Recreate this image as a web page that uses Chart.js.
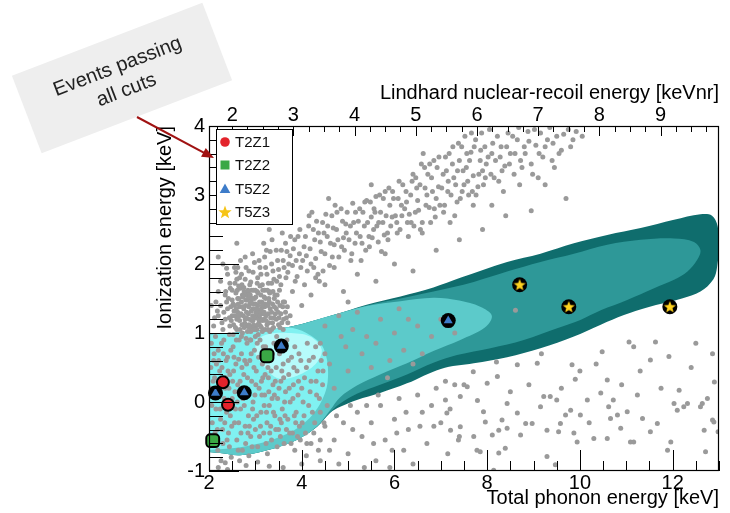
<!DOCTYPE html>
<html><head><meta charset="utf-8">
<script src="https://cdn.jsdelivr.net/npm/chart.js@4.4.0/dist/chart.umd.min.js"></script>
<style>html,body{margin:0;padding:0;background:#fff;}canvas{display:block;}</style>
</head><body>
<canvas id="c" width="730" height="513"></canvas>
<script>
// ---------------- DATA ----------------
const phononTicks = [2, 4, 6, 8, 10, 12];
const ionTicks = [-1, 0, 1, 2, 3, 4];
const lindhardTicks = [2, 3, 4, 5, 6, 7, 8, 9];
const lindhardRange = [1.621, 9.955];   // keVnr at the left (2 keV) and right (13 keV) edges

const seriesNames = ['T2Z1', 'T2Z2', 'T5Z2', 'T5Z3'];
const t2z1X = [2.30, 2.41],             t2z1Y = [0.285, -0.04];
const t2z2X = [3.25, 2.08],             t2z2Y = [0.67, -0.56];
const t5z2X = [2.14, 2.76, 3.56, 7.16], t5z2Y = [0.13, 0.135, 0.81, 1.18];
const t5z3X = [8.70, 9.76, 11.94],      t5z3Y = [1.70, 1.38, 1.38];

// signal-model contour bands (x, y)
const contourDark = [[1.9,0.97],[3.0,1.03],[3.75,1.09],[4.68,1.26],[5.4,1.41],[6.13,1.53],[6.84,1.66],[7.42,1.8],[8.43,2.03],[9.15,2.15],[9.87,2.30],[10.59,2.42],[11.31,2.52],[12.03,2.64],[12.6,2.72],[12.85,2.70],[12.97,2.55],[13.0,2.3],[12.96,1.96],[12.88,1.78],[12.6,1.60],[12.2,1.50],[11.45,1.37],[10.95,1.26],[10.45,1.12],[9.87,0.95],[9.15,0.78],[8.43,0.65],[7.71,0.56],[7.0,0.48],[6.27,0.27],[5.69,0.13],[5.19,0.03],[4.83,-0.07],[4.61,-0.16],[4.33,-0.36],[3.89,-0.55],[3.25,-0.70],[2.67,-0.77],[2.24,-0.74],[1.9,-0.72]];
const contourMid = [[1.9,0.97],[3.0,1.03],[3.75,1.09],[4.68,1.26],[5.4,1.40],[6.13,1.50],[6.84,1.60],[7.71,1.74],[8.43,1.89],[9.15,2.03],[9.87,2.15],[10.59,2.28],[11.31,2.35],[12.03,2.37],[12.46,2.32],[12.6,2.2],[12.53,2.06],[12.32,1.89],[12.03,1.77],[11.6,1.65],[11.02,1.48],[10.45,1.33],[10.01,1.19],[9.51,1.07],[8.79,0.90],[8.07,0.78],[7.35,0.68],[6.84,0.57],[6.27,0.40],[5.69,0.25],[5.19,0.12],[4.83,-0.02],[4.61,-0.15],[4.33,-0.36],[3.89,-0.55],[3.25,-0.70],[2.67,-0.77],[2.24,-0.74],[1.9,-0.72]];
const contourLight = [[1.9,0.97],[3.0,1.03],[3.75,1.09],[4.68,1.26],[5.4,1.39],[6.13,1.46],[6.84,1.51],[7.4,1.47],[7.85,1.38],[8.1,1.25],[7.95,1.08],[7.42,0.90],[6.84,0.74],[6.27,0.56],[5.69,0.40],[5.19,0.24],[4.83,0.07],[4.61,-0.12],[4.33,-0.35],[3.89,-0.55],[3.25,-0.70],[2.67,-0.77],[2.24,-0.74],[1.9,-0.72]];
const contourCyan = [[1.9,0.97],[2.6,1.0],[3.2,1.04],[3.7,1.08],[4.1,1.0],[4.47,0.78],[4.56,0.3],[4.35,-0.08],[3.95,-0.36],[3.4,-0.54],[2.8,-0.64],[2.3,-0.68],[1.9,-0.7]];
const contourCore = [[3.0,0.9],[3.25,0.98],[3.7,1.0],[4.18,0.95],[4.43,0.76],[4.3,0.55],[3.9,0.38],[3.5,0.34],[3.2,0.5],[3.0,0.7]];

// gray events (x, y)
const erBandPts = [[2.35,1.55],[2.45,1.72],[2.5,1.62],[2.6,1.78],[2.62,1.5],[2.7,1.85],[2.75,1.66],[2.8,1.95],[2.85,1.58],[2.9,1.74],[2.95,1.88],[3.0,1.62],[2.4,1.85],[2.55,1.95],[2.2,1.6],[2.15,1.45],[2.25,1.75],[2.68,2.05],[2.3,2.0],
[3.05,1.8],[3.1,1.95],[3.15,1.7],[3.2,2.1],[3.25,1.85],[3.3,1.6],[3.35,2.0],[3.4,1.78],[3.45,2.2],[3.5,1.92],[3.55,1.7],[3.6,2.05],[3.65,2.3],[3.7,1.88],[3.75,2.12],[3.8,1.98],[3.85,2.35],[3.9,1.82],[3.95,2.15],[3.18,2.3],[3.58,2.45],[3.42,1.55],
[4.02,2.05],[4.08,2.4],[4.12,1.9],[4.18,2.22],[4.25,2.5],[4.3,2.08],[4.35,1.85],[4.4,2.32],[4.45,2.6],[4.5,2.15],[4.55,2.4],[4.6,1.98],[4.65,2.7],[4.7,2.28],[4.75,2.5],[4.8,2.1],[4.85,2.8],[4.9,2.38],[4.95,2.58],[4.22,2.75],[4.58,2.95],[4.38,1.75],
[5.02,2.35],[5.08,2.15],[5.12,2.6],[5.18,2.45],[5.25,2.8],[5.3,2.3],[5.35,2.55],[5.4,2.92],[5.45,2.4],[5.5,2.68],[5.55,2.5],[5.6,2.98],[5.65,2.32],[5.7,2.75],[5.75,2.6],[5.8,3.05],[5.85,2.45],[5.9,2.85],[5.95,2.68],[5.28,2.05],[5.72,2.18],[5.5,3.15],
[6.02,2.7],[6.08,2.95],[6.12,2.5],[6.18,3.15],[6.22,2.8],[6.28,2.6],[6.35,3.0],[6.4,3.3],[6.45,2.75],[6.5,2.92],[6.55,3.15],[6.6,2.6],[6.65,3.4],[6.7,3.0],[6.75,2.82],[6.8,3.25],[6.85,3.5],[6.9,2.95],[6.95,3.12],[6.3,2.4],[6.62,3.6],[6.88,2.68],
[7.02,3.1],[7.08,2.85],[7.12,3.35],[7.18,3.6],[7.22,3.0],[7.28,3.25],[7.35,2.9],[7.4,3.5],[7.45,3.7],[7.5,3.15],[7.55,3.4],[7.6,3.0],[7.65,3.62],[7.7,3.28],[7.75,3.8],[7.8,3.12],[7.85,3.5],[7.9,3.35],[7.95,3.7],[7.3,2.7],[7.7,2.85],
[8.02,3.55],[8.08,3.3],[8.12,3.75],[8.18,3.5],[8.25,3.2],[8.3,3.7],[8.38,3.42],[8.45,3.9],[8.5,3.6],[8.58,3.3],[8.65,3.8],[8.72,3.5],[8.8,3.7],[8.88,3.92],[8.95,3.45],[8.35,3.05],[8.7,3.15],
[9.05,3.72],[9.15,3.9],[9.2,3.55],[9.3,3.8],[9.4,3.5],[9.5,3.85],[9.6,3.65],[9.75,3.95],[9.85,3.8],[9.1,3.25],[9.45,3.4]];
const erBandPts2 = [[2.52,1.42],[2.58,1.88],[2.64,1.68],[2.72,1.55],[2.78,1.78],[2.86,1.9],[2.92,1.62],[2.98,2.02],[3.04,1.72],[3.12,1.85],[3.22,1.95],[3.28,1.72],[3.32,2.18],[3.38,1.9],[3.48,2.05],[3.52,1.82],[3.62,1.95],[3.68,2.18],[3.72,2.0],[3.82,2.22],[3.88,2.05],[3.92,2.4],[3.98,1.95],
[4.05,2.25],[4.1,2.12],[4.15,2.55],[4.2,2.0],[4.28,2.35],[4.32,2.62],[4.42,2.18],[4.48,2.45],[4.52,2.72],[4.62,2.3],[4.68,2.52],[4.72,2.85],[4.78,2.35],[4.88,2.62],[4.92,2.2],[4.98,2.75],[5.05,2.55],[5.1,2.88],[5.15,2.3],[5.22,2.62],[5.32,2.75],[5.38,2.2],[5.42,2.6],[5.48,2.9],
[5.52,2.38],[5.58,2.75],[5.62,2.55],[5.68,3.0],[5.78,2.42],[5.82,2.7],[5.88,3.1],[5.92,2.55],[5.98,2.95],[6.05,2.6],[6.1,3.2],[6.15,2.85],[6.25,3.05],[6.32,2.72],[6.38,3.2],[6.42,2.55],[6.48,3.1],[6.52,2.78],[6.58,3.45],[6.68,2.85],[6.72,3.3],[6.78,2.6],[6.82,3.05],[6.92,3.4],[6.98,2.85],
[7.05,3.3],[7.1,3.55],[7.15,3.05],[7.25,3.45],[7.32,3.15],[7.38,3.75],[7.42,2.95],[7.48,3.35],[7.52,3.85],[7.58,3.2],[7.62,3.5],[7.68,3.05],[7.72,3.7],[7.82,3.3],[7.88,3.9],[7.92,3.15],[7.98,3.45],[8.05,3.95],[8.1,3.6],[8.15,3.25],[8.22,3.85],[8.28,3.55],[8.32,3.35],[8.42,3.7],[8.48,3.45],
[8.55,3.85],[8.6,3.6],[8.68,3.98],[8.75,3.4],[8.82,3.6],[8.9,3.78],[8.98,3.3],[9.02,3.95],[9.12,3.6],[9.25,3.7],[9.35,3.98],[9.42,3.75],[9.55,3.6],[9.65,3.88],[9.8,3.7],[9.92,3.92],[10.05,3.85],[9.25,3.15]];
const erBandPts3 = [[2.62,1.95],[2.78,2.1],[2.94,2.15],[3.08,2.05],[3.24,2.2],[3.36,2.35],[3.46,1.75],[3.56,2.2],[3.66,1.8],[3.76,2.4],[3.86,1.75],[3.96,2.5],[4.06,1.7],[4.16,2.7],[4.26,1.95],[4.36,2.45],[4.46,1.9],[4.56,2.55],[4.66,2.1],[4.76,2.75],[4.86,2.25],[4.96,2.45],[5.06,2.05],[5.16,2.75],[5.26,2.4],[5.36,2.9],[5.46,2.25],[5.56,2.8],[5.66,2.6],[5.76,2.95],[5.86,2.35],[5.96,3.05],[6.06,2.45],[6.16,2.7],[6.26,2.9],[6.36,2.6],[6.46,3.25],[6.56,2.5],[6.66,3.1],[6.76,3.45],[6.86,2.8],[6.96,3.55],[7.06,2.75],[7.16,3.2],[7.26,3.7],[7.36,3.35],[7.46,3.05],[7.56,3.6],[7.66,3.9],[7.76,3.0],[7.86,3.65],[7.96,3.25]];
const lowClusterPts = [[2.45,1.1],[2.5,1.25],[2.55,1.4],[2.6,1.05],[2.62,1.3],[2.66,1.18],[2.7,1.45],[2.72,1.0],[2.75,1.35],[2.78,1.2],[2.8,1.55],[2.82,1.1],[2.85,1.28],[2.88,1.42],[2.9,1.02],[2.92,1.18],[2.95,1.35],[2.98,1.5],[3.0,1.08],[3.02,1.25],[3.05,1.4],[3.08,1.15],[3.1,1.3],[3.12,1.55],[3.15,1.02],[3.18,1.2],[3.2,1.38],[3.25,1.12],[3.28,1.28],[3.3,1.45],[3.35,1.05],[3.4,1.22],[3.45,1.35],[3.5,1.12],[3.55,1.28],[3.6,1.05],[2.58,1.58],[2.68,1.65],[2.76,1.08],[2.84,1.62],[2.94,1.25],[3.04,1.6],[3.14,1.45],[2.52,0.98],[2.64,1.5],[2.74,1.25],[2.86,1.38],[2.96,1.12],[3.06,1.32],[3.16,1.18],[3.22,1.5],[3.32,1.35],[2.4,1.35],[2.35,1.2],[2.3,1.05],[2.42,1.5],[3.38,1.6],[3.48,1.45],[3.65,1.3],[3.7,1.15],[2.7,0.95],[2.8,0.92],[2.9,0.9],[3.0,0.95],[2.1,1.1],[2.2,1.25],[2.05,1.4],[2.88,1.7],[3.1,1.68],[2.66,1.38],[2.82,1.48],[3.0,1.42],[3.2,1.62],[2.6,1.2],[2.96,1.62]];
const lowClusterPts2 = [[2.48,1.18],[2.54,1.32],[2.57,1.08],[2.63,1.42],[2.67,1.05],[2.69,1.28],[2.73,1.52],[2.77,1.14],[2.79,1.4],[2.83,1.02],[2.87,1.2],[2.89,1.55],[2.91,1.32],[2.93,1.08],[2.97,1.42],[2.99,1.22],[3.01,1.52],[3.03,1.05],[3.07,1.2],[3.09,1.45],[3.11,1.1],[3.13,1.35],[3.17,1.28],[3.19,1.52],[3.21,1.05],[3.23,1.25],[3.27,1.4],[3.29,1.15],[3.31,1.58],[3.33,1.22],[3.37,1.42],[3.39,1.08],[3.43,1.28],[3.47,1.55],[3.51,1.22],[3.53,1.4],[3.57,1.15],[3.63,1.45],[3.67,1.22],[2.5,1.48],[2.61,1.62],[2.71,1.7],[2.81,1.3],[2.91,1.45],[3.01,1.3],[3.11,1.2],[3.21,1.42],[3.31,1.02],[2.76,1.6],[3.06,1.58],[3.16,1.62],[2.56,1.25],[2.86,1.12],[3.26,1.62],[3.41,1.5]];
const lowClusterPts3 = [[2.32,1.3],[2.38,1.45],[2.44,1.22],[2.47,1.38],[2.53,1.12],[2.59,1.35],[2.65,1.25],[2.71,1.12],[2.73,1.38],[2.79,1.48],[2.81,1.22],[2.85,1.5],[2.87,1.08],[2.93,1.5],[2.95,1.18],[2.97,1.05],[3.03,1.35],[3.05,1.12],[3.09,1.25],[3.13,1.08],[3.15,1.4],[3.19,1.3],[3.23,1.18],[3.27,1.05],[3.29,1.5],[3.35,1.3],[3.37,1.15],[3.41,1.38],[3.45,1.2],[3.49,1.3],[3.53,1.08],[3.59,1.38],[3.61,1.2],[3.69,1.38],[3.75,1.25],[2.25,1.4],[2.18,1.32],[2.12,1.22],[2.28,1.15],[2.36,1.6],[2.46,1.65],[2.56,1.72],[2.66,1.8],[3.35,1.72],[3.52,1.62]];
const cyanRegionPts = [[2.05,0.85],[2.1,0.6],[2.12,0.35],[2.15,-0.1],[2.18,-0.4],[2.2,0.75],[2.22,0.1],[2.25,-0.25],[2.28,0.5],[2.3,-0.6],[2.32,0.9],[2.35,0.2],[2.38,-0.15],[2.4,0.65],[2.42,-0.45],[2.45,0.4],[2.48,-0.8],[2.5,0.05],[2.52,0.8],[2.55,-0.3],[2.58,0.55],[2.6,-0.55],[2.62,0.25],[2.65,0.9],[2.68,-0.1],[2.7,0.7],[2.72,-0.7],[2.75,0.4],[2.78,-0.35],[2.8,0.15],[2.82,0.85],[2.85,-0.2],[2.88,0.6],[2.9,-0.5],[2.92,0.3],[2.95,0.0],[2.98,0.75],[3.0,-0.4],[3.02,0.45],[3.05,-0.65],[3.08,0.2],[3.1,0.9],[3.12,-0.15],[3.15,0.55],[3.18,-0.45],[3.2,0.1],[3.22,0.8],[3.25,-0.3],[3.28,0.35],[3.3,-0.05],[3.32,0.65],[3.35,-0.55],[3.38,0.25],[3.4,0.85],[3.42,-0.2],[3.45,0.5],[3.48,0.05],[3.5,-0.4],[3.52,0.7],[3.55,0.3],[3.58,-0.1],[3.6,0.55],[3.62,-0.6],[3.65,0.15],[3.68,0.9],[3.7,-0.25],[3.72,0.4],[3.75,0.0],[3.78,0.65],[3.8,-0.45],[3.82,0.25],[3.85,0.8],[3.88,-0.15],[3.9,0.45],[3.92,0.1],[3.95,-0.35],[3.98,0.6],[4.0,0.2],[4.05,-0.2],[4.1,0.5],[4.12,0.85],[4.15,-0.05],[4.2,0.3],[4.25,0.65],[4.28,-0.3],[4.32,0.1],[4.35,0.45],[4.4,-0.15],[4.45,0.25],[4.5,0.7],[4.55,-0.05],[2.08,-0.6],[2.14,0.95],[2.26,-0.85],[2.44,0.98],[2.66,-0.85],[2.86,-0.78],[3.06,0.98],[3.26,-0.75],[3.46,0.95],[2.2,-0.95],[2.4,-0.98],[2.35,-0.88],[2.8,-0.92],[3.05,-0.87],[3.3,-0.93],[3.6,-0.95],[4.1,-0.78],[4.2,-0.6],[4.4,-0.85],[3.85,-0.7],[4.0,-0.9],[2.16,0.55],[2.36,0.35],[2.56,0.15],[2.76,-0.05],[2.96,-0.25],[3.16,0.35],[3.36,0.05],[3.56,-0.3],[2.46,-0.2],[2.64,0.62]];
const cyanRegionPts2 = [[2.03,0.2],[2.07,-0.3],[2.11,0.7],[2.17,0.15],[2.19,-0.7],[2.23,0.45],[2.27,0.85],[2.29,-0.4],[2.33,0.05],[2.37,0.6],[2.39,-0.55],[2.43,0.2],[2.47,0.75],[2.49,-0.35],[2.53,0.45],[2.57,-0.1],[2.59,0.9],[2.63,-0.7],[2.67,0.3],[2.69,-0.45],[2.73,0.05],[2.77,0.6],[2.79,-0.6],[2.83,0.35],[2.87,-0.35],[2.89,0.9],[2.93,-0.65],[2.97,0.5],[2.99,0.1],[3.03,-0.2],[3.07,0.65],[3.09,-0.5],[3.13,0.3],[3.17,0.8],[3.19,-0.05],[3.23,-0.6],[3.27,0.5],[3.29,0.15],[3.33,-0.35],[3.37,0.7],[3.39,-0.15],[3.43,0.3],[3.47,-0.65],[3.49,0.85],[3.53,-0.25],[3.57,0.45],[3.63,0.0],[3.67,-0.4],[3.73,0.2],[3.77,-0.6],[3.83,0.5],[3.87,-0.3],[3.93,0.3],[3.97,-0.55],[4.03,0.0],[4.08,-0.45],[4.18,0.15],[4.23,-0.15],[4.38,0.05],[4.48,-0.3],[4.3,0.8],[4.42,0.6]];
const cyanRegionPts3 = [[2.04,0.5],[2.06,-0.05],[2.09,0.3],[2.13,-0.45],[2.21,0.6],[2.24,-0.1],[2.31,0.7],[2.34,-0.3],[2.41,0.45],[2.44,-0.65],[2.51,0.3],[2.54,0.65],[2.61,0.0],[2.64,-0.3],[2.71,0.5],[2.74,0.2],[2.81,0.55],[2.84,-0.45],[2.91,0.7],[2.94,-0.1],[3.01,0.25],[3.04,0.85],[3.11,-0.35],[3.14,0.1],[3.21,0.4],[3.24,-0.15],[3.31,-0.45],[3.34,0.45],[3.41,0.1],[3.44,-0.4],[3.51,0.2],[3.54,-0.5],[3.61,0.35],[3.64,-0.2],[3.71,0.6],[3.74,-0.45],[3.81,0.05],[3.84,-0.2],[3.91,-0.5],[3.94,0.7],[4.01,-0.3],[4.06,0.35],[4.11,-0.6],[4.16,0.6],[4.26,-0.45],[4.31,0.3],[4.36,-0.7],[4.46,0.45]];
const midRegionPts = [[4.5,1.1],[4.8,1.25],[5.1,1.05],[5.4,0.95],[5.7,1.2],[6.0,1.0],[4.95,0.8],[5.3,0.7],[5.6,0.85],[6.2,0.75],[6.5,1.1],[6.8,0.95],[4.6,0.55],[5.0,0.45],[5.5,0.5],[5.9,0.6],[6.4,0.55],[4.7,0.2],[4.4,0.85],[5.2,1.3],[6.1,1.35],[6.6,0.7],[7.0,1.2],[7.3,1.0],[6.3,1.2],[5.85,0.35],[4.85,0.95],[8.61,1.33],
[4.5,-0.35],[4.7,-0.55],[4.9,-0.3],[5.0,-0.75],[5.2,-0.15],[5.3,-0.5],[5.5,-0.3],[5.6,-0.85],[5.7,-0.05],[5.8,-0.55],[6.0,-0.25],[6.1,0.05],[6.2,-0.7],[6.3,-0.4],[6.5,0.1],[6.6,-0.15],[6.7,-0.6],[6.9,0.2],[7.0,-0.3],[7.1,0.3],[7.2,-0.1],[7.4,-0.5],[4.8,-0.9],[5.4,-0.05],[5.9,-0.95],[6.4,-0.9],[6.8,-0.05],[7.3,0.25],[4.6,-0.7],[5.1,-0.4],[5.65,0.1],[6.05,-0.45],[6.55,-0.35],[7.15,-0.75],[5.35,-0.95],[4.4,-0.55],[4.75,-0.2],[5.05,-0.05],[5.55,-0.6],[6.25,-0.15],[6.85,-0.35],[5.95,-0.7]];
const lowerRightPts = [[7.13,-0.16],[7.10,0.03],[7.21,-0.41],[7.42,-0.36],[7.38,-0.55],[7.71,-0.50],[7.92,-0.14],[7.96,-0.29],[8.11,-0.48],[8.25,-0.41],[8.32,-0.26],[8.43,-0.38],[8.65,-0.16],[8.72,-0.48],[8.83,-0.31],[8.97,-0.31],[9.15,-0.07],[9.22,0.08],[9.29,-0.41],[9.36,0.08],[9.54,-0.43],[9.58,-0.31],[9.69,-0.19],[9.80,-0.12],[9.87,-0.45],[9.94,-0.58],[10.01,-0.19],[10.16,0.03],[10.30,-0.53],[10.45,0.13],[10.59,-0.53],[10.62,-0.07],[10.66,-0.24],[10.81,-0.19],[10.88,-0.38],[11.02,-0.14],[11.09,-0.58],[11.16,-0.58],[11.24,0.10],[11.35,-0.24],[11.52,-0.43],[11.67,-0.31],[11.96,-0.58],[12.10,-0.12],[12.14,0.17],[12.24,-0.07],[12.32,-0.02],[12.64,-0.02],[12.68,-0.41],[12.71,-0.72],[12.89,-0.29],[12.98,-0.43],[7.78,-0.70],[7.85,-0.72],[8.14,-0.99],[8.25,-0.74],[8.39,-0.67],[9.29,-0.79],[9.47,-0.91],[11.89,-0.70],
[11.06,0.87],[11.16,0.80],[11.63,0.87],[10.48,0.73],[11.52,0.61],[11.92,0.66],[12.86,0.70],[12.9,0.29],[9.83,0.54],[9.9,0.33],[9.08,0.56],[9.17,0.70],[8.65,0.54],[8.22,0.37],[8.0,0.27],[8.2,0.58],[7.7,0.44],[7.5,0.25],[7.42,0.08],[7.57,0.22],[7.79,0.02],[8.43,-0.02],[9.5,0.03],[10.59,0.32],[10.72,0.03],[12.03,-0.02],[12.6,-0.07],[12.86,-0.26],[10.2,-0.3],[10.0,0.45],[10.35,0.55],[11.3,0.45],[12.4,0.5],[12.75,0.05],[8.9,0.25],[9.6,0.2],[10.9,0.25],[11.75,0.2],[12.5,0.85],[8.5,0.15]];
const miscPts = [[4.2,1.55],[4.5,1.7],[4.9,1.6],[5.2,1.85],[5.6,1.75],[6.0,2.0],[6.4,1.9],[6.9,2.2],[7.4,2.35],[7.9,2.5],[8.4,2.7],[4.0,1.4],[3.8,1.6],[4.7,1.95],[5.8,2.15],[3.6,1.45],[4.3,1.8],[8.95,2.77],[9.7,2.95],[2.38,1.94],[2.2,2.1],[5.0,1.45],[6.6,2.45],[7.2,2.6],[8.1,2.85],[3.3,2.5],[2.6,2.3]];

// ---------------- STYLE ----------------
const FONT = "'Liberation Sans', Arial, Helvetica, sans-serif";
const C = { dark:'#0f6d6d', mid:'#2e9898', light:'#5ccaca', cyan:'#80f1f1', core:'#b6fbfb',
            gray:'#9a9a9a', red:'#e3232b', green:'#3aa845', blue:'#3d7cc9', yellow:'#ffd21f' };

function starPath(ctx, cx, cy, ro, ri) {
  ctx.beginPath();
  for (let i = 0; i < 10; i++) {
    const r = i % 2 ? ri : ro;
    const a = -Math.PI / 2 + i * Math.PI / 5;
    const px = cx + r * Math.cos(a), py = cy + r * Math.sin(a);
    i ? ctx.lineTo(px, py) : ctx.moveTo(px, py);
  }
  ctx.closePath();
}
const starImg = document.createElement('canvas');
starImg.width = 16; starImg.height = 16;
(function(){ const g = starImg.getContext('2d'); starPath(g, 8, 8.5, 6.3, 2.7); g.fillStyle = C.yellow; g.fill(); })();

const pts = (xs, ys) => xs.map((x, i) => ({x, y: ys[i]}));
const pairs = arr => arr.map(([x, y]) => ({x, y}));
const band = (arr, color, order) => ({ data: pairs(arr), showLine: true, fill: 'shape', backgroundColor: color,
  borderWidth: 0, borderColor: color, pointRadius: 0, tension: 0.35, order, xAxisID:'x', yAxisID:'y' });

const grayAll = [...erBandPts, ...erBandPts2, ...erBandPts3, ...lowClusterPts, ...lowClusterPts2, ...lowClusterPts3,
  ...cyanRegionPts, ...cyanRegionPts2, ...cyanRegionPts3, ...midRegionPts, ...lowerRightPts, ...miscPts];

const datasets = [
  band(contourDark, C.dark, 50), band(contourMid, C.mid, 49), band(contourLight, C.light, 48),
  band(contourCyan, C.cyan, 47), band(contourCore, C.core, 46),
  { data: pairs(grayAll), pointRadius: 2.5, pointBackgroundColor: C.gray, pointBorderWidth: 0, order: 30, xAxisID:'x', yAxisID:'y' },
  { data: [...pts(t5z2X, t5z2Y), ...pts(t5z3X, t5z3Y)], pointRadius: 7.5, pointBackgroundColor: '#000', pointBorderWidth: 0, order: 5, clip: false, xAxisID:'x', yAxisID:'y' },
  { label: seriesNames[0], data: pts(t2z1X, t2z1Y), pointStyle: 'circle', pointRadius: 6, pointBackgroundColor: C.red, pointBorderColor: '#000', pointBorderWidth: 2, order: 1, clip: false, xAxisID:'x', yAxisID:'y' },
  { label: seriesNames[1], data: pts(t2z2X, t2z2Y), pointStyle: 'rectRounded', pointRadius: 7.5, pointBackgroundColor: C.green, pointBorderColor: '#000', pointBorderWidth: 2, order: 1, clip: false, xAxisID:'x', yAxisID:'y' },
  { label: seriesNames[2], data: pts(t5z2X, t5z2Y), pointStyle: 'triangle', pointRadius: 5.2, pointBackgroundColor: C.blue, pointBorderWidth: 0, order: 1, clip: false, xAxisID:'x', yAxisID:'y' },
  { label: seriesNames[3], data: pts(t5z3X, t5z3Y), pointStyle: starImg, pointRadius: 7, order: 1, clip: false, xAxisID:'x', yAxisID:'y' }
];

const bgPlugin = { id: 'bg', beforeDraw(chart) { const c = chart.ctx; c.save(); c.fillStyle = '#fff'; c.fillRect(0, 0, chart.width, chart.height); c.restore(); } };

const overlayPlugin = { id: 'overlay', afterDraw(chart) {
  const c = chart.ctx, a = chart.chartArea, sx = chart.scales.x, sy = chart.scales.y, sl = chart.scales.x2;
  c.save();
  c.strokeStyle = '#000'; c.lineWidth = 1;
  const seg = (x1, y1, x2, y2) => { c.beginPath(); c.moveTo(x1, y1); c.lineTo(x2, y2); c.stroke(); };
  for (let i = 0; i <= 22; i++) { const v = 2 + i * 0.5; const px = Math.round(sx.getPixelForValue(v)) + 0.5; seg(px, a.bottom, px, a.bottom - (i % 4 === 0 ? 21 : 10)); }
  for (let i = 0; i <= 25; i++) { const v = -1 + i * 0.2; const py = Math.round(sy.getPixelForValue(v)) + 0.5; seg(a.left, py, a.left + (i % 5 === 0 ? 30 : 14), py); }
  for (let i = 0; i <= 36; i++) { const v = 1.0 + i * 0.25; if (v < lindhardRange[0] || v > lindhardRange[1]) continue;
    const px = Math.round(sl.getPixelForValue(v)) + 0.5; seg(px, a.top, px, a.top + (i % 4 === 0 ? 10 : 6)); }
  c.lineWidth = 1.2; c.strokeRect(a.left + 0.5, a.top + 0.5, a.right - a.left - 1, a.bottom - a.top - 1);
  // legend
  const lx = a.left + 7, ly = a.top + 3, lw = 76, lh = 95;
  c.fillStyle = '#fff'; c.fillRect(lx, ly, lw, lh);
  c.lineWidth = 1; c.strokeStyle = '#000'; c.strokeRect(lx + 0.5, ly + 0.5, lw, lh);
  const rows = [13, 36, 60, 83];
  c.font = '15px ' + FONT; c.textBaseline = 'middle'; c.textAlign = 'left';
  seriesNames.forEach((name, i) => {
    const my = ly + rows[i], mx = lx + 9;
    if (i === 0) { c.fillStyle = C.red; c.beginPath(); c.arc(mx, my, 4.8, 0, Math.PI * 2); c.fill(); }
    if (i === 1) { c.fillStyle = C.green; c.fillRect(mx - 4.5, my - 4.5, 9, 9); }
    if (i === 2) { c.fillStyle = C.blue; c.beginPath(); c.moveTo(mx, my - 5.5); c.lineTo(mx + 5.3, my + 4); c.lineTo(mx - 5.3, my + 4); c.closePath(); c.fill(); }
    if (i === 3) { c.fillStyle = '#f6c417'; starPath(c, mx, my + 0.5, 7, 2.9); c.fill(); }
    c.fillStyle = '#111'; c.fillText(name, lx + 19, my + 1);
  });
  // annotation callout
  c.save();
  c.translate(122, 78); c.rotate(-21 * Math.PI / 180);
  c.fillStyle = '#eeeeee'; c.fillRect(-102, -41.5, 204, 83);
  c.fillStyle = '#222'; c.font = '20px ' + FONT; c.textAlign = 'center'; c.textBaseline = 'middle';
  c.fillText('Events passing', 0, -12); c.fillText('all cuts', 0, 13);
  c.restore();
  const x0 = 137, y0 = 117, x1 = 214, y1 = 158, ang = Math.atan2(y1 - y0, x1 - x0);
  c.strokeStyle = '#a01212'; c.fillStyle = '#a01212'; c.lineWidth = 2;
  seg(x0, y0, x1 - 9 * Math.cos(ang), y1 - 9 * Math.sin(ang));
  c.beginPath(); c.moveTo(x1, y1);
  c.lineTo(x1 - 12 * Math.cos(ang) + 5 * Math.sin(ang), y1 - 12 * Math.sin(ang) - 5 * Math.cos(ang));
  c.lineTo(x1 - 12 * Math.cos(ang) - 5 * Math.sin(ang), y1 - 12 * Math.sin(ang) + 5 * Math.cos(ang));
  c.closePath(); c.fill();
  c.restore();
} };

const tickFont = { family: FONT, size: 20 };
new Chart(document.getElementById('c'), {
  type: 'scatter',
  data: { datasets },
  options: {
    responsive: false, animation: false, devicePixelRatio: 1,
    layout: { padding: { left: 150, right: 11, top: 80, bottom: 0 } },
    plugins: { legend: { display: false }, tooltip: { enabled: false } },
    scales: {
      x: { type: 'linear', position: 'bottom', min: 2, max: 13,
        afterBuildTicks: s => { s.ticks = phononTicks.map(v => ({ value: v })); },
        afterFit: s => { s.height = 42; },
        grid: { display: false }, border: { display: false },
        ticks: { color: '#000', font: tickFont, padding: -8, maxRotation: 0, autoSkip: false },
        title: { display: true, text: 'Total phonon energy [keV]', align: 'end', color: '#000', font: tickFont, padding: { top: 0, bottom: 3 } } },
      x2: { type: 'linear', axis: 'x', position: 'top', min: lindhardRange[0], max: lindhardRange[1],
        afterBuildTicks: s => { s.ticks = lindhardTicks.map(v => ({ value: v })); },
        afterFit: s => { s.height = 46; },
        grid: { display: false }, border: { display: false },
        ticks: { color: '#000', font: tickFont, padding: -9, maxRotation: 0, autoSkip: false },
        title: { display: true, text: 'Lindhard nuclear-recoil energy [keVnr]', align: 'end', color: '#000', font: tickFont, padding: { top: 1, bottom: 0 } } },
      y: { type: 'linear', position: 'left', min: -1, max: 4,
        afterBuildTicks: s => { s.ticks = ionTicks.map(v => ({ value: v })); },
        afterFit: s => { s.width = 59; },
        grid: { display: false }, border: { display: false },
        ticks: { color: '#000', font: tickFont, padding: -4, autoSkip: false },
        title: { display: true, text: 'Ionization energy [keV]', align: 'end', color: '#000', font: tickFont, padding: { top: 3, bottom: 0 } } }
    }
  },
  plugins: [bgPlugin, overlayPlugin]
});
</script>
</body></html>
